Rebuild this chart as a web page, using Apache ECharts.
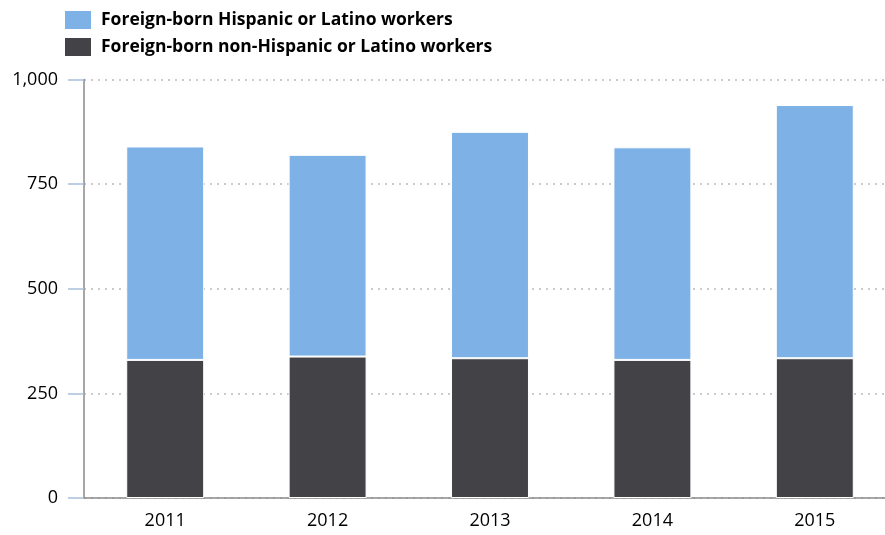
<!DOCTYPE html>
<html><head><meta charset="utf-8">
<script src="https://cdn.jsdelivr.net/npm/echarts@6/dist/echarts.min.js"></script>
<style>html,body{margin:0;padding:0;background:#fff}#c{width:885px;height:535px}</style>
</head><body><div id="c"></div>
<script>
const categories = ['2011','2012','2013','2014','2015'];
const hispanic = [510, 482, 541, 508, 605];
const nonHispanic = [330, 338, 334, 330, 334];
const yTicks = [0, 250, 500, 750, 1000];

const chart = echarts.init(document.getElementById('c'));
chart.setOption({
  animation: false,
  textStyle: {fontFamily: 'Open Sans'},
  legend: {
    orient: 'vertical', left: 63, top: 9, padding: 0, itemWidth: 28, itemHeight: 20, itemGap: 5,
    icon: 'rect',
    data: ['Foreign-born Hispanic or Latino workers', 'Foreign-born non-Hispanic or Latino workers'],
    textStyle: {fontSize: 17.5, fontWeight: 'bold', color: '#000', fontFamily: 'Open Sans', padding: [0,0,0,4]}
  },
  grid: {left: 84, top: 79.5, width: 812, bottom: 37, containLabel: false, outerBoundsMode: 'none'},
  xAxis: {
    type: 'category', data: categories,
    axisLine: {lineStyle: {color: '#8a8a8a', width: 1.5}},
    axisTick: {alignWithLabel: true, length: 8, lineStyle: {color: '#a9c0dc', width: 1.5}},
    axisLabel: {fontSize: 18, color: '#000', margin: 14}
  },
  yAxis: {
    type: 'value', min: 0, max: 1000, interval: 250,
    axisLine: {show: true, lineStyle: {color: '#8a8a8a', width: 1.5}},
    axisTick: {show: true, length: 16, lineStyle: {color: '#a9c0dc', width: 1.5}},
    axisLabel: {fontSize: 18, color: '#000', margin: 26,
      formatter: v => yTicks.includes(v) ? v.toLocaleString('en-US') : ''},
    splitLine: {show: true, lineStyle: {color: '#bbb', type: [2, 5], width: 1.5}}
  },
  series: [
    {name: 'Foreign-born non-Hispanic or Latino workers', type: 'bar', stack: 's', data: nonHispanic,
     barWidth: '48%', itemStyle: {color: '#434246', borderColor: '#fff', borderWidth: 1}},
    {name: 'Foreign-born Hispanic or Latino workers', type: 'bar', stack: 's', data: hispanic,
     barWidth: '48%', itemStyle: {color: '#7eb2e6', borderColor: '#fff', borderWidth: 1}}
  ]
});
</script></body></html>
